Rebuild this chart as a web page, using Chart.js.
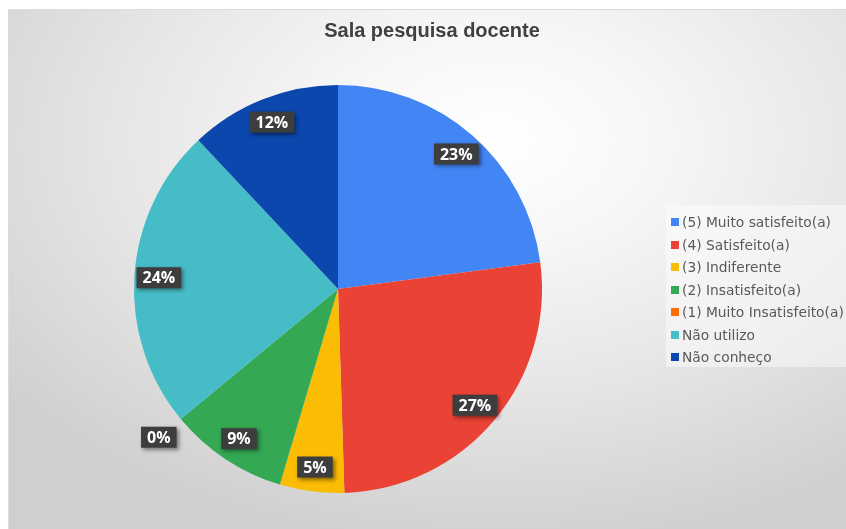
<!DOCTYPE html>
<html><head><meta charset="utf-8">
<script src="https://cdn.jsdelivr.net/npm/chart.js@4.4.1/dist/chart.umd.min.js"></script>
<style>
html,body{margin:0;padding:0;width:846px;height:529px;overflow:hidden;background:#fff;}
#frame{position:absolute;left:8px;top:9px;width:838px;height:520px;
 background: radial-gradient(ellipse 75% 80% at 58% 25%, #ffffff 0%, #f7f7f7 25%, #e6e6e6 60%, #cfcfcf 100%);
 border-left:1px solid #dcdcdc;border-top:1px solid #dcdcdc;box-sizing:border-box;}
#wrap{position:absolute;left:0;top:0;width:846px;height:529px;}
#title{position:absolute;left:18px;top:19px;width:828px;text-align:center;font:bold 20px "Liberation Sans",Arial,sans-serif;color:#404040;}
#legend{position:absolute;left:666px;top:205px;width:180px;height:162px;background:rgba(255,255,255,0.45);box-sizing:border-box;padding-top:9px;}
.item{height:22.5px;line-height:22.5px;font:13.8px "DejaVu Sans",sans-serif;color:#595959;white-space:nowrap;}
.sw{display:inline-block;width:8px;height:8px;margin-left:5px;margin-right:3px;vertical-align:middle;position:relative;top:-1px;}
</style></head>
<body>
<div id="frame"></div>
<div id="wrap"><canvas id="c" width="846" height="529"></canvas></div>
<div id="title"></div>
<div id="legend"></div>
<script>
const chartTitle = "Sala pesquisa docente";
const categories = ["(5) Muito satisfeito(a)","(4) Satisfeito(a)","(3) Indiferente","(2) Insatisfeito(a)","(1) Muito Insatisfeito(a)","Não utilizo","Não conheço"];
const values = [22.9, 26.6, 5.1, 9.4, 0, 24.0, 12.0];
const colors = ["#4285F4","#EA4335","#FBBC04","#34A853","#FF6D01","#46BDC6","#0B47AD"];

document.getElementById('title').textContent = chartTitle;
const leg = document.getElementById('legend');
categories.forEach((c,i)=>{
  const d=document.createElement('div'); d.className='item';
  const s=document.createElement('span'); s.className='sw'; s.style.background=colors[i];
  d.appendChild(s); d.appendChild(document.createTextNode(c)); leg.appendChild(d);
});

const labelPlugin = {
  id:'pctLabels',
  afterDatasetsDraw(chart){
    const ctx=chart.ctx, meta=chart.getDatasetMeta(0), data=chart.data.datasets[0].data;
    const total=data.reduce((a,b)=>a+b,0);
    meta.data.forEach((arc,i)=>{
      const p=arc.getProps(['x','y','startAngle','endAngle','outerRadius'],true);
      const mid=(p.startAngle+p.endAngle)/2;
      const f = data[i]===0 ? 1.14 : 0.88;
      const cx=p.x+Math.cos(mid)*p.outerRadius*f, cy=p.y+Math.sin(mid)*p.outerRadius*f;
      const txt=Math.round(data[i]/total*100)+'%';
      ctx.save();
      ctx.font='bold 16px "Open Sans", sans-serif';
      const w=ctx.measureText(txt).width+12, h=21;
      ctx.shadowColor='rgba(0,0,0,0.45)'; ctx.shadowBlur=4; ctx.shadowOffsetX=2; ctx.shadowOffsetY=2;
      ctx.fillStyle='#3d3d3d';
      ctx.fillRect(cx-w/2,cy-h/2,w,h);
      ctx.shadowColor='transparent';
      ctx.fillStyle='#ffffff'; ctx.textAlign='center'; ctx.textBaseline='middle';
      ctx.fillText(txt,cx,cy+1);
      ctx.restore();
    });
  }
};

new Chart(document.getElementById('c'),{
  type:'pie',
  data:{labels:categories,datasets:[{data:values,backgroundColor:colors,borderWidth:0}]},
  options:{
    responsive:false,animation:false,
    layout:{padding:{left:134,top:85,right:304,bottom:36}},
    plugins:{legend:{display:false},title:{display:false},tooltip:{enabled:false}}
  },
  plugins:[labelPlugin]
});
</script>
</body></html>
